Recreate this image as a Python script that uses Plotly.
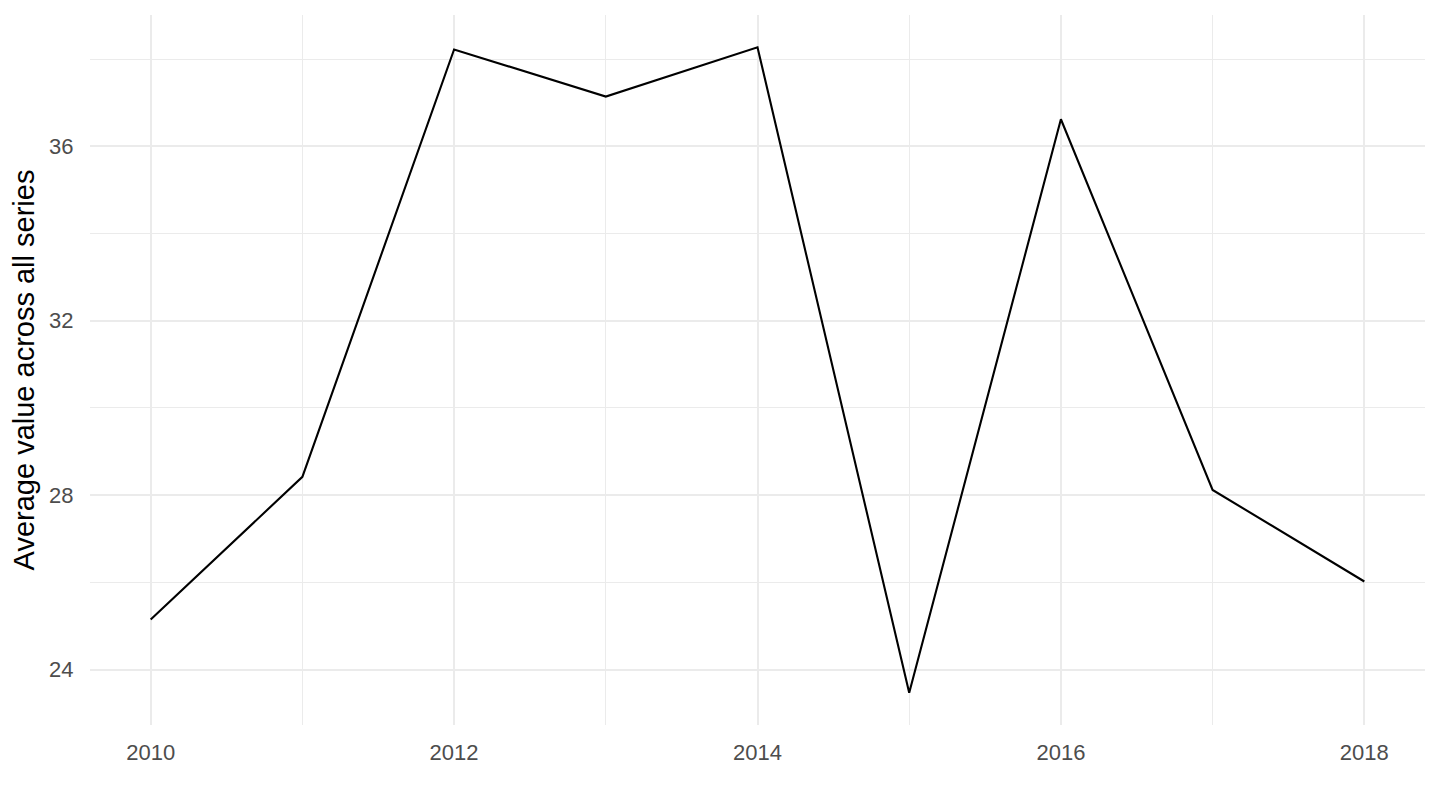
import plotly.graph_objects as go

years = [2010, 2011, 2012, 2013, 2014, 2015, 2016, 2017, 2018]
avg_values = [25.15, 28.42, 38.22, 37.14, 38.27, 23.47, 36.62, 28.12, 26.02]
x_ticks = [2010, 2012, 2014, 2016, 2018]
y_ticks = [24, 28, 32, 36]

fig = go.Figure()
fig.add_trace(go.Scatter(x=years, y=avg_values, mode="lines",
                         line=dict(color="black", width=2.1), showlegend=False))

xmin, xmax = min(years), max(years)
xpad = (xmax - xmin) * 0.05
ymin, ymax = min(avg_values), max(avg_values)
ypad = (ymax - ymin) * 0.05

fig.update_layout(
    width=1424, height=794,
    margin=dict(l=82, r=7, t=7, b=77),
    paper_bgcolor="white", plot_bgcolor="white",
    font=dict(family="Liberation Sans, Arial, sans-serif"),
    xaxis=dict(range=[xmin - xpad, xmax + xpad], tickvals=x_ticks,
               ticktext=[str(t) for t in x_ticks],
               showgrid=True, gridcolor="#EBEBEB", gridwidth=2.2,
               zeroline=False, showline=False,
               ticks="outside", ticklen=8, tickcolor="rgba(0,0,0,0)",
               tickfont=dict(size=22, color="#4D4D4D"),
               minor=dict(tickvals=[2011, 2013, 2015, 2017], showgrid=True,
                          gridcolor="#EBEBEB", gridwidth=1.1, ticks="")),
    yaxis=dict(range=[ymin - ypad, ymax + ypad], tickvals=y_ticks,
               ticktext=[str(t) for t in y_ticks],
               showgrid=True, gridcolor="#EBEBEB", gridwidth=2.2,
               zeroline=False, showline=False,
               ticks="outside", ticklen=11, tickcolor="rgba(0,0,0,0)",
               tickfont=dict(size=22, color="#4D4D4D"),
               title=dict(text="Average value across all series",
                          font=dict(size=29, color="black"), standoff=5),
               minor=dict(tickvals=[26, 30, 34, 38], showgrid=True,
                          gridcolor="#EBEBEB", gridwidth=1.1, ticks="")),
)

fig.write_html("out.html")
